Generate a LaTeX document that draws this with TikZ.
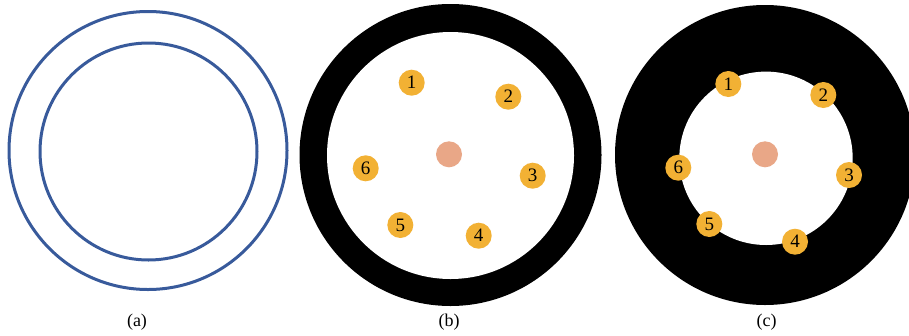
\documentclass[tikz,border=0pt]{standalone}
\usepackage{fontspec}
\setmainfont{Liberation Serif}
\usetikzlibrary{positioning}
\definecolor{ringblue}{RGB}{56,90,155}
\definecolor{pinorange}{RGB}{242,177,52}
\definecolor{coresalmon}{RGB}{233,167,135}
\tikzset{
    ring/.style={draw=ringblue,line width=3pt},
    pin/.style={circle,fill=pinorange,minimum size=26pt,inner sep=0pt,font=\fontsize{19}{19}\selectfont},
    core/.style={circle,fill=coresalmon,minimum size=26pt,inner sep=0pt},
    caption/.style={font=\fontsize{18}{18}\selectfont}
}
\begin{document}
\begin{tikzpicture}[x=1pt,y=-1pt]
    \useasboundingbox (0,0) rectangle (909,335);
    \clip (0,0) rectangle (909,335);
    % (a) two rings
    \draw[ring] (148,150.5) circle (139);
    \draw[ring] (148.5,151.5) circle (108.5);
    \node[caption] (capa) at (137,322) {(a)};
    % (b) wide opening
    \fill[black] (450.5,155) circle (151);
    \fill[white] (450.5,155.5) circle (123.5);
    \node[core] (bcore) at (449,154.3) {};
    \foreach \n/\x/\y in {1/411.7/82.7,2/508.3/96.7,3/532.7/175.7,4/478.7/235.7,5/400.3/225,6/365.7/168.3}
        \node[pin] (b\n) at (\x,\y) {\n};
    \node[caption] (capb) at (449,322) {(b)};
    % (c) narrow opening
    \fill[black] (765,155) circle (150);
    \fill[white] (766,158.3) circle (86.7);
    \node[core] (ccore) at (765,154.3) {};
    \foreach \n/\x/\y in {1/728.3/84,2/823.3/95,3/849/175,4/795/241.7,5/709.3/224,6/678.3/167.7}
        \node[pin] (c\n) at (\x,\y) {\n};
    \node[caption] (capc) at (766.5,322) {(c)};
\end{tikzpicture}
\end{document}
